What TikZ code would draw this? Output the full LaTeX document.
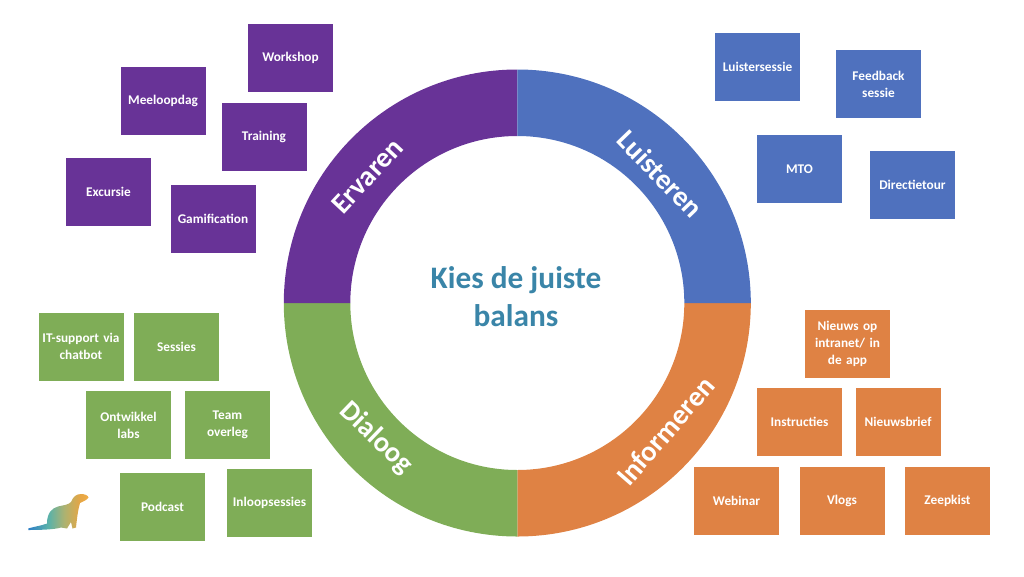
\documentclass[tikz,border=0pt]{standalone}
\usepackage{fontspec}
\setmainfont{Carlito}

\definecolor{ervarenpurple}{HTML}{683397}
\definecolor{luisterblue}{HTML}{4F71BE}
\definecolor{dialooggreen}{HTML}{7FAD57}
\definecolor{informorange}{HTML}{DF8244}
\definecolor{titleblue}{HTML}{3A85A8}

\pgfdeclarehorizontalshading{ottershade}{100bp}{
  rgb(0bp)=(0.18,0.50,0.78);
  rgb(25bp)=(0.18,0.50,0.78);
  rgb(42bp)=(0.36,0.70,0.66);
  rgb(55bp)=(0.68,0.70,0.44);
  rgb(68bp)=(0.90,0.65,0.27);
  rgb(75bp)=(0.94,0.68,0.28);
  rgb(100bp)=(0.94,0.68,0.28)}

\tikzset{
  box/.style={rectangle,minimum width=85,minimum height=68,inner sep=1pt,text width=83,align=center,
    text=white,font=\fontsize{13.3}{17}\selectfont\bfseries},
  ringlabel/.style={text=white,inner sep=0pt,font=\fontsize{28.5}{34}\selectfont\bfseries}
}

\begin{document}
\begin{tikzpicture}[x=1pt,y=-1pt]
\useasboundingbox (0,0) rectangle (1024,576);

% Draw the four parts of the ring
\fill[informorange] ([shift={(517.3,303)}]0:233.5) arc[start angle=0,end angle=90,radius=233.5] -- ([shift={(517.3,303)}]90:167) arc[start angle=90,end angle=0,radius=167] -- cycle;
\fill[dialooggreen] ([shift={(517.3,303)}]90:233.5) arc[start angle=90,end angle=180,radius=233.5] -- ([shift={(517.3,303)}]180:167) arc[start angle=180,end angle=90,radius=167] -- cycle;
\fill[ervarenpurple] ([shift={(517.3,303)}]180:233.5) arc[start angle=180,end angle=270,radius=233.5] -- ([shift={(517.3,303)}]270:167) arc[start angle=270,end angle=180,radius=167] -- cycle;
\fill[luisterblue] ([shift={(517.3,303)}]270:233.5) arc[start angle=270,end angle=360,radius=233.5] -- ([shift={(517.3,303)}]0:167) arc[start angle=360,end angle=270,radius=167] -- cycle;

% Ring labels
\node[ringlabel,rotate=47] (ervaren) at (367.5,176) {Ervaren};
\node[ringlabel,rotate=-46] (luisteren) at (660,174) {Luisteren};
\node[ringlabel,rotate=-44] (dialoog) at (376.5,438) {Dialoog};
\node[ringlabel,rotate=49] (informeren) at (665.5,431) {Informeren};

% Title in the middle
\node[text=titleblue,align=center,font=\fontsize{31.3}{38}\selectfont\bfseries] (title) at (516,297) {Kies de juiste\\balans};

% Purple boxes
\node[box,fill=ervarenpurple] (workshop) at (290.5,58) {Workshop};
\node[box,fill=ervarenpurple] (meeloopdag) at (163,101) {Meeloopdag};
\node[box,fill=ervarenpurple] (training) at (264,137) {Training};
\node[box,fill=ervarenpurple] (excursie) at (108.5,192) {Excursie};
\node[box,fill=ervarenpurple] (gamification) at (213,218.5) {Gamification};

% Blue boxes
\node[box,fill=luisterblue] (luistersessie) at (757.5,67) {Luistersessie};
\node[box,fill=luisterblue] (feedback) at (878.5,84) {Feedback\\sessie};
\node[box,fill=luisterblue] (mto) at (799.5,169) {MTO};
\node[box,fill=luisterblue] (directietour) at (912.5,185) {Directietour};

% Green boxes
\node[box,fill=dialooggreen] (itsupport) at (81,346.5) {IT-support via\\chatbot};
\node[box,fill=dialooggreen] (sessies) at (176.5,346.5) {Sessies};
\node[box,fill=dialooggreen] (ontwikkel) at (128.5,425) {Ontwikkel\\labs};
\node[box,fill=dialooggreen] (team) at (227.5,424.5) {Team\\overleg};
\node[box,fill=dialooggreen] (podcast) at (162.5,507) {Podcast};
\node[box,fill=dialooggreen] (inloop) at (269.5,502.5) {Inloopsessies};

% Orange boxes
\node[box,fill=informorange] (nieuws) at (847.5,343.5) {Nieuws op\\intranet/ in\\de app};
\node[box,fill=informorange] (instructies) at (799.5,422) {Instructies};
\node[box,fill=informorange] (nieuwsbrief) at (898,422) {Nieuwsbrief};
\node[box,fill=informorange] (webinar) at (736.5,500.5) {Webinar};
\node[box,fill=informorange] (vlogs) at (842,500.5) {Vlogs};
\node[box,fill=informorange] (zeepkist) at (947.5,500.5) {Zeepkist};

% Small otter at the bottom left
\shade[shading=ottershade]
  (28.3,528.4) .. controls (35,526.5) and (42,525.5) .. (47,523.5)
  .. controls (47,513) and (52,508) .. (58,506.5)
  .. controls (64,505) and (68,505) .. (71,502)
  .. controls (73,497) and (76,494) .. (81,494)
  .. controls (85,494) and (88,495.5) .. (88.5,497.5)
  .. controls (87,500) and (83,501.5) .. (80,503)
  .. controls (78,510) and (77,518) .. (76,527.5)
  -- (72.5,528.5) -- (71,522) -- (67,528.5) -- (61,527.5)
  .. controls (55,529.5) and (40,530) .. (28.3,530) -- cycle;
\end{tikzpicture}
\end{document}
